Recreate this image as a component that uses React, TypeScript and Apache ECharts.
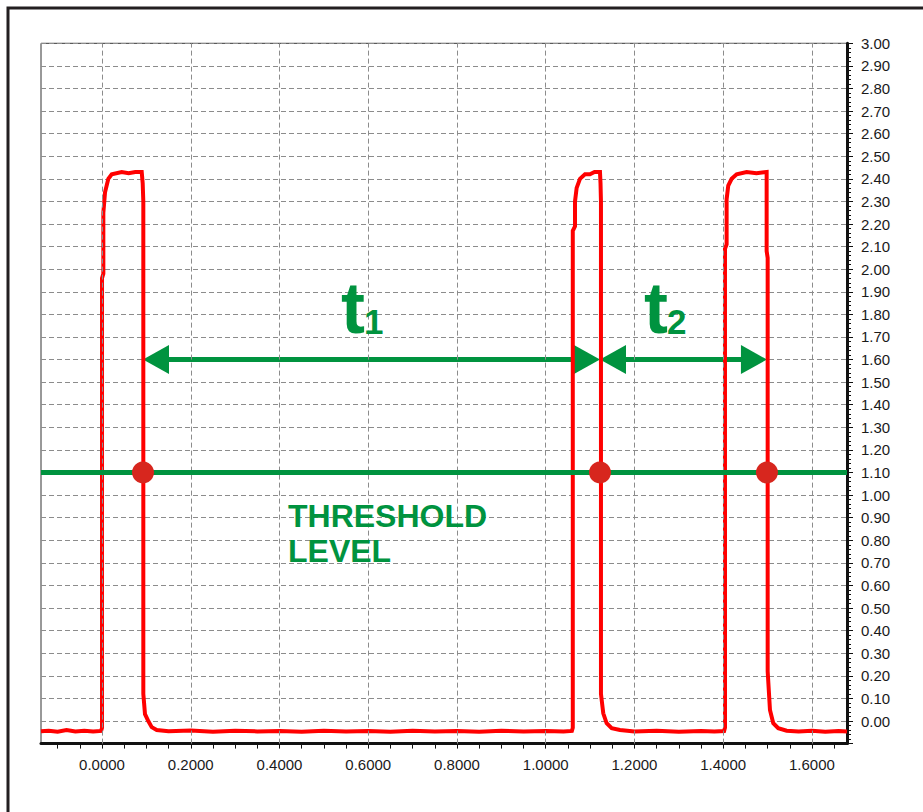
import React, { useEffect, useRef } from "react";
import * as echarts from "echarts";

// Signal trace (time in s, value in V)
const signalT = [
  -0.1375, -0.12, -0.1, -0.08, -0.06, -0.04, -0.02, -0.002,
  0.0, 0.0, 0.003, 0.003, 0.0068, 0.0142, 0.0219, 0.0444, 0.06, 0.075, 0.0895, 0.0917, 0.0931,
  0.0931, 0.0969, 0.1043, 0.112, 0.1233,
  0.15, 0.2, 0.25, 0.3, 0.35, 0.4, 0.45, 0.5, 0.55, 0.6, 0.65, 0.7, 0.75, 0.8, 0.85, 0.9, 0.95, 1.0, 1.04, 1.059,
  1.061, 1.061, 1.066, 1.066, 1.0697, 1.0772, 1.0885, 1.0997, 1.11, 1.1223, 1.1235, 1.1245,
  1.1245, 1.1297, 1.1373, 1.1486, 1.1673,
  1.2, 1.25, 1.3, 1.35, 1.38, 1.402,
  1.404, 1.404, 1.4077, 1.4077, 1.4114, 1.419, 1.4303, 1.4528, 1.475, 1.4979, 1.4979, 1.5002,
  1.5002, 1.5054, 1.5128, 1.524, 1.543,
  1.57, 1.6, 1.63, 1.66, 1.679,
];
const signalV = [
  -0.045, -0.043, -0.047, -0.04, -0.046, -0.043, -0.046, -0.044,
  -0.03, 1.96, 1.98, 2.25, 2.34, 2.4, 2.42, 2.43, 2.425, 2.43, 2.43, 2.38, 2.3,
  0.12, 0.03, 0.0, -0.027, -0.04,
  -0.045, -0.042, -0.047, -0.043, -0.046, -0.044, -0.047, -0.043, -0.046, -0.044, -0.047, -0.043, -0.046, -0.044, -0.047, -0.043, -0.046, -0.044, -0.046, -0.044,
  -0.03, 2.17, 2.19, 2.3, 2.36, 2.4, 2.42, 2.42, 2.43, 2.43, 2.38, 2.3,
  0.12, 0.034, -0.01, -0.032, -0.04,
  -0.046, -0.043, -0.047, -0.044, -0.046, -0.044,
  -0.03, 2.09, 2.11, 2.31, 2.37, 2.4, 2.42, 2.43, 2.425, 2.43, 2.08, 2.05,
  0.22, 0.049, -0.01, -0.032, -0.043,
  -0.046, -0.043, -0.047, -0.044, -0.046,
];

const thresholdLevel = 1.1;
const crossingT = [0.0924, 1.1223, 1.4986];
const arrowLevel = 1.6;
const arrowSegments = [
  [0.0924, 1.1223],
  [1.1223, 1.4986],
];

const xLabelValues = [0, 0.2, 0.4, 0.6, 0.8, 1.0, 1.2, 1.4, 1.6];
const xTickValues = [
  -0.1, -0.05, 0, 0.05, 0.1, 0.15, 0.2, 0.25, 0.3, 0.35, 0.4, 0.45, 0.5, 0.55, 0.6, 0.65, 0.7, 0.75,
  0.8, 0.85, 0.9, 0.95, 1.0, 1.05, 1.1, 1.15, 1.2, 1.25, 1.3, 1.35, 1.4, 1.45, 1.5, 1.55, 1.6, 1.65,
];

const GREEN = "#00933f";
const RED = "#ff0000";
const DOT = "#d7261e";
const FONT = '"Liberation Sans", Arial, sans-serif';

export default function App() {
  const ref = useRef<HTMLDivElement>(null);

  useEffect(() => {
    if (!ref.current) return;
    const chart = echarts.init(ref.current, null, { renderer: "svg" });

    const signal = signalT.map((t, i) => [t, signalV[i]]);
    const dots = crossingT.map((t) => [t, thresholdLevel]);
    const arrows = arrowSegments.map((s) => [s[0], s[1], arrowLevel]);

    const option: any = {
      animation: false,
      backgroundColor: "#ffffff",
      grid: {
        left: 41,
        right: 76,
        top: 43.3,
        bottom: 68.4,
        show: true,
        borderColor: "#333",
        borderWidth: 1,
        backgroundColor: "#fff",
      },
      xAxis: {
        type: "value",
        min: -0.1375,
        max: 1.679,
        position: "bottom",
        axisLine: { show: true, onZero: false, lineStyle: { color: "#111", width: 3 } },
        axisTick: {
          show: true,
          customValues: xTickValues,
          length: 5,
          lineStyle: { color: "#111", width: 1 },
        },
        axisLabel: {
          customValues: xLabelValues,
          formatter: (v: number) => v.toFixed(4),
          fontSize: 15,
          fontFamily: FONT,
          color: "#1a1a1a",
          margin: 13,
        },
        splitLine: { show: false },
      },
      yAxis: {
        type: "value",
        position: "right",
        min: -0.1,
        max: 3.0,
        interval: 0.1,
        axisLine: { show: true, onZero: false, lineStyle: { color: "#111", width: 3 } },
        axisTick: { show: true, inside: false, length: 6, lineStyle: { color: "#111" } },
        minorTick: { show: true, splitNumber: 5, length: 4, lineStyle: { color: "#111" } },
        axisLabel: {
          formatter: (v: number) => (v < -0.001 ? "" : v.toFixed(2)),
          fontSize: 15,
          fontFamily: FONT,
          color: "#1a1a1a",
          margin: 14,
        },
        splitLine: {
          show: true,
          lineStyle: { color: "#8c8c8c", width: 1, type: [5, 3] },
        },
      },
      series: [
        {
          name: "grid-x",
          type: "line",
          data: [],
          z: 1,
          silent: true,
          markLine: {
            silent: true,
            symbol: "none",
            label: { show: false },
            lineStyle: { color: "#8c8c8c", width: 1, type: [5, 3] },
            data: xLabelValues.map((v) => ({ xAxis: v })),
          },
        },
        {
          name: "threshold",
          type: "line",
          data: [],
          z: 2,
          silent: true,
          markLine: {
            silent: true,
            symbol: "none",
            label: { show: false },
            lineStyle: { color: GREEN, width: 5, type: "solid" },
            data: [{ yAxis: thresholdLevel }],
          },
        },
        {
          name: "arrows",
          type: "custom",
          z: 3,
          silent: true,
          encode: { x: [0, 1], y: 2 },
          data: arrows,
          renderItem: (params: any, api: any) => {
            const x0 = api.value(0);
            const x1 = api.value(1);
            const y = api.value(2);
            const p0 = api.coord([x0, y]);
            const p1 = api.coord([x1, y]);
            const L = 26;
            const H = 14.5;
            return {
              type: "group",
              children: [
                {
                  type: "line",
                  shape: { x1: p0[0] + L - 2, y1: p0[1], x2: p1[0] - L + 2, y2: p1[1] },
                  style: { stroke: GREEN, lineWidth: 5 },
                },
                {
                  type: "polygon",
                  shape: {
                    points: [
                      [p0[0], p0[1]],
                      [p0[0] + L, p0[1] - H],
                      [p0[0] + L, p0[1] + H],
                    ],
                  },
                  style: { fill: GREEN },
                },
                {
                  type: "polygon",
                  shape: {
                    points: [
                      [p1[0], p1[1]],
                      [p1[0] - L, p1[1] - H],
                      [p1[0] - L, p1[1] + H],
                    ],
                  },
                  style: { fill: GREEN },
                },
              ],
            };
          },
        },
        {
          name: "signal",
          type: "line",
          z: 4,
          data: signal,
          showSymbol: false,
          symbol: "none",
          lineStyle: { color: RED, width: 4, join: "miter" },
          silent: true,
        },
        {
          name: "crossings",
          type: "scatter",
          z: 5,
          data: dots,
          symbol: "circle",
          symbolSize: 22,
          itemStyle: { color: DOT, opacity: 1 },
          silent: true,
        },
      ],
      graphic: [
        {
          type: "rect",
          z: 100,
          silent: true,
          shape: { x: 8, y: 8, width: 1000, height: 1000 },
          style: { fill: "none", stroke: "#231f20", lineWidth: 3 },
        },
        {
          type: "text",
          z: 100,
          style: {
            text: "t",
            x: 341,
            y: 308,
            font: `bold 72px ${FONT}`,
            fill: GREEN,
            align: "left",
            verticalAlign: "middle",
          },
        },
        {
          type: "text",
          z: 100,
          style: {
            text: "1",
            x: 364,
            y: 321,
            font: `bold 35px ${FONT}`,
            fill: GREEN,
            align: "left",
            verticalAlign: "middle",
          },
        },
        {
          type: "text",
          z: 100,
          style: {
            text: "t",
            x: 644,
            y: 308,
            font: `bold 72px ${FONT}`,
            fill: GREEN,
            align: "left",
            verticalAlign: "middle",
          },
        },
        {
          type: "text",
          z: 100,
          style: {
            text: "2",
            x: 667,
            y: 321,
            font: `bold 35px ${FONT}`,
            fill: GREEN,
            align: "left",
            verticalAlign: "middle",
          },
        },
        {
          type: "text",
          z: 100,
          style: {
            text: "THRESHOLD",
            x: 288,
            y: 516,
            font: `bold 32px ${FONT}`,
            fill: GREEN,
            align: "left",
            verticalAlign: "middle",
          },
        },
        {
          type: "text",
          z: 100,
          style: {
            text: "LEVEL",
            x: 288,
            y: 551,
            font: `bold 32px ${FONT}`,
            fill: GREEN,
            align: "left",
            verticalAlign: "middle",
          },
        },
      ],
    };

    chart.setOption(option);
    return () => {
      chart.dispose();
    };
  }, []);

  return (
    <div
      ref={ref}
      style={{ position: "absolute", left: 0, top: 0, width: 923, height: 812, background: "#fff" }}
    />
  );
}
